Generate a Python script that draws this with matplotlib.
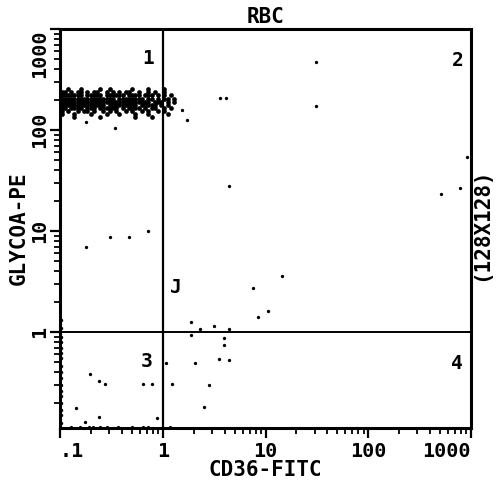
import matplotlib
matplotlib.use("Agg")
import matplotlib.pyplot as plt
from matplotlib.ticker import FixedLocator, FixedFormatter, NullFormatter
import numpy as np

# ---------------- data ----------------
title = "RBC"
x_label = "CD36-FITC"
y_label = "GLYCOA-PE"
side_label = "(128X128)"
tick_values = [0.1, 1, 10, 100, 1000]
tick_labels = [".1", "1", "10", "100", "1000"]
minor_subs = [2, 3, 4, 5, 6, 7, 8, 9]
gate_x = 1.0
gate_y = 1.0
x_range = (0.1, 1000)
y_range = (0.112, 1000)

# main population: occupied histogram channels (1/32 decade wide) from CD36 = 0.1
cluster_x_start = 0.1
channels_per_decade = 32
cluster_row_y = [255, 237, 220, 205, 191, 177, 165, 153, 143, 133]
cluster_rows = [
    "..#...#.....#..#......#....#....#...",
    "##.#.##.#.##..#.#.#.##..#..#.#..#...",
    "#######.#####.######.####.###.#.#.#.",
    "#################.########.##.#.##.#",
    "############################.###.#.#",
    "##############.#########.#####.#.#..",
    "##.####.###.######.#.####.#.##..#.#.",
    "#.#..#.##.#..#.#.#..#.#..#.#..#.#...",
    "#...#....#....#...#....#...#.....#..",
    "....#.......#..........#....#.......",
]

# sparse events (CD36, GlycoA)
sparse_x = [0.343, 0.179, 1.54, 1.72, 3.6, 4.1,
            0.179, 0.307, 0.47, 0.718,
            31, 31, 915, 782, 510, 4.41, 14.5, 7.55, 10.6, 8.45,
            1.88, 2.31, 3.16, 4.41,
            1.88, 3.94, 3.94, 3.52, 4.41, 2.06, 1.08, 2.82, 2.52, 1.23,
            0.785, 0.64, 0.196, 0.24, 0.274, 0.143, 0.24, 0.175, 0.88]
sparse_y = [105, 120, 158, 126, 207, 207,
            6.95, 8.73, 8.73, 10.0,
            471, 173, 54, 26.7, 23, 27.9, 3.58, 2.73, 1.61, 1.41,
            1.26, 1.07, 1.15, 1.07,
            0.934, 0.872, 0.744, 0.54, 0.53, 0.49, 0.49, 0.30, 0.181, 0.305,
            0.305, 0.305, 0.384, 0.327, 0.305, 0.177, 0.144, 0.128, 0.141]

# events piled up on the bottom edge (CD36 values) and on the left edge (GlycoA values)
bottom_pile_x = [0.128, 0.156, 0.191, 0.209, 0.245, 0.287, 0.366, 0.502, 0.642, 0.72, 1.18]
left_pile_y = [0.125, 0.15, 0.17, 0.2, 0.23, 0.26, 0.3, 0.35, 0.4, 0.46, 0.55,
               0.62, 0.7, 0.8, 0.9, 1.1, 1.3, 150, 170, 190, 210, 230]

quadrant_labels = ["1", "2", "3", "4", "J"]
quadrant_x = [0.72, 748, 0.70, 731, 1.35]
quadrant_y = [516, 493, 0.505, 0.49, 2.73]

# ---------------- drawing ----------------
FONT = ["DejaVu Sans Mono", "DejaVu Sans"]
plt.rcParams["font.family"] = FONT
plt.rcParams["font.weight"] = "bold"

fig = plt.figure(figsize=(4.97, 4.82), dpi=100)
ax = fig.add_axes([60 / 497, 54 / 482, 411 / 497, 399 / 482])
ax.set_xscale("log")
ax.set_yscale("log")
ax.set_xlim(*x_range)
ax.set_ylim(*y_range)

# cluster from channel grid
cx, cy = [], []
for yv, row in zip(cluster_row_y, cluster_rows):
    for i, ch in enumerate(row):
        if ch == "#":
            cx.append(cluster_x_start * 10 ** ((i + 0.5) / channels_per_decade))
            cy.append(yv)
ax.plot(cx, cy, "o", color="black", markersize=3.4, markeredgewidth=0, zorder=3)

ax.plot(sparse_x, sparse_y, "o", color="black", markersize=2.4, markeredgewidth=0, zorder=3)
ax.plot(bottom_pile_x, [y_range[0] * 1.02] * len(bottom_pile_x), "o", color="black",
        markersize=2.3, markeredgewidth=0, clip_on=False, zorder=3)
ax.plot([x_range[0] * 1.02] * len(left_pile_y), left_pile_y, "o", color="black",
        markersize=2.5, markeredgewidth=0, clip_on=False, zorder=3)

# gates
ax.axvline(gate_x, color="black", linewidth=1.6, zorder=2)
ax.axhline(gate_y, color="black", linewidth=1.4, zorder=2)

for lab, qx, qy in zip(quadrant_labels, quadrant_x, quadrant_y):
    ax.text(qx, qy, lab, ha="center", va="center", fontsize=14, fontweight="bold")

# spines
for s in ax.spines.values():
    s.set_linewidth(2.2)
    s.set_color("black")

# ticks
for axis in (ax.xaxis, ax.yaxis):
    axis.set_major_locator(FixedLocator(tick_values))
    axis.set_major_formatter(FixedFormatter(tick_labels))
    minors = [b * s for b in tick_values[:-1] for s in minor_subs]
    axis.set_minor_locator(FixedLocator(minors))
    axis.set_minor_formatter(NullFormatter())

ax.tick_params(which="major", direction="out", length=7, width=1.6, labelsize=14.5,
               top=False, right=False)
ax.tick_params(which="minor", direction="out", length=4, width=1.3, top=False, right=False)
ax.tick_params(axis="x", which="major", pad=3)
ax.tick_params(axis="y", which="major", pad=1)

for lab in ax.get_xticklabels():
    lab.set_fontweight("bold")
xl = ax.get_xticklabels()
xl[0].set_ha("left")
xl[-1].set_ha("right")

for lab in ax.get_yticklabels():
    lab.set_rotation(90)
    lab.set_va("center")
    lab.set_fontweight("bold")
yl = ax.get_yticklabels()
yl[0].set_va("bottom")
yl[-1].set_va("top")

ax.set_title(title, fontsize=15, fontweight="bold", pad=4)
ax.set_xlabel(x_label, fontsize=15, fontweight="bold", labelpad=-1)
ax.set_ylabel(y_label, fontsize=15, fontweight="bold", labelpad=1)
ax.text(1.025, 0.51, side_label, transform=ax.transAxes, rotation=90,
        ha="center", va="center", fontsize=15, fontweight="bold")

fig.savefig("out.png", dpi=100)
